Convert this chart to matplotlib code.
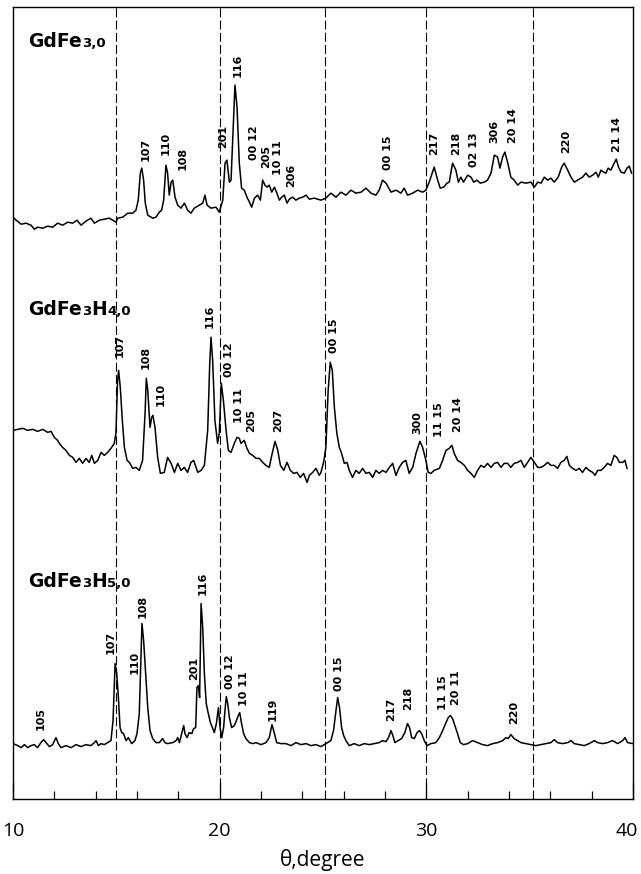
import numpy as np
import matplotlib.pyplot as plt
import matplotlib.transforms as mtrans
from matplotlib.ticker import MultipleLocator
from matplotlib.offsetbox import TextArea, HPacker, AnnotationBbox

# ---- GdFe3,0 (top trace) : 2theta (deg) and intensity (arb. units)
tt_a = [10.00, 10.15, 10.39, 10.63, 10.87, 11.03, 11.19, 11.44, 11.68, 11.92, 12.16, 12.40,
        12.65, 12.89, 13.10, 13.29, 13.53, 13.77, 13.94, 14.18, 14.42, 14.66, 14.82, 14.98,
        15.06, 15.31, 15.55, 15.79, 15.95, 16.06, 16.16, 16.23, 16.32, 16.40, 16.52, 16.76,
        16.92, 17.08, 17.19, 17.29, 17.40, 17.48, 17.56, 17.65, 17.73, 17.84, 17.97, 18.13,
        18.29, 18.45, 18.61, 18.77, 19.02, 19.18, 19.29, 19.39, 19.58, 19.82, 19.98, 20.15,
        20.26, 20.35, 20.47, 20.55, 20.63, 20.74, 20.84, 20.95, 21.06, 21.19, 21.32, 21.44,
        21.55, 21.68, 21.84, 21.97, 22.08, 22.19, 22.29, 22.40, 22.52, 22.65, 22.77, 22.89,
        23.00, 23.13, 23.26, 23.37, 23.53, 23.69, 23.85, 24.02, 24.18, 24.34, 24.58, 24.90,
        25.14, 25.38, 25.63, 25.87, 26.11, 26.35, 26.59, 26.84, 27.08, 27.32, 27.56, 27.72,
        27.88, 28.05, 28.29, 28.53, 28.77, 28.93, 29.09, 29.34, 29.58, 29.82, 29.98, 30.14,
        30.38, 30.55, 30.67, 30.84, 31.00, 31.11, 31.27, 31.43, 31.55, 31.67, 31.80, 32.00,
        32.16, 32.29, 32.45, 32.61, 32.80, 32.96, 33.13, 33.29, 33.45, 33.56, 33.69, 33.80,
        33.93, 34.09, 34.25, 34.42, 34.58, 34.82, 35.06, 35.23, 35.39, 35.55, 35.71, 35.87,
        36.03, 36.19, 36.38, 36.55, 36.67, 36.84, 37.00, 37.16, 37.32, 37.56, 37.72, 37.88,
        38.05, 38.21, 38.32, 38.45, 38.58, 38.69, 38.80, 38.93, 39.09, 39.19, 39.30, 39.42,
        39.58, 39.71, 39.82, 39.93]
int_a = [11, 8, 4, 5, 3, -1, 1, 0, 2, 1, 5, 3,
         6, 5, 8, 3, 7, 10, 5, 8, 9, 10, 8, 6,
         10, 11, 15, 15, 18, 28, 55, 60, 48, 25, 13, 10,
         11, 16, 18, 28, 63, 55, 33, 46, 48, 31, 23, 20,
         25, 18, 15, 20, 23, 25, 33, 23, 20, 21, 16, 28,
         65, 68, 46, 48, 88, 143, 121, 65, 40, 38, 31, 26,
         21, 30, 33, 28, 48, 43, 41, 43, 36, 41, 35, 28,
         31, 33, 25, 29, 31, 28, 30, 31, 33, 29, 30, 28,
         30, 35, 31, 36, 33, 38, 35, 36, 40, 35, 33, 38,
         48, 45, 36, 38, 35, 40, 33, 35, 38, 36, 38, 46,
         61, 48, 40, 41, 45, 46, 65, 58, 46, 51, 46, 53,
         51, 46, 48, 45, 46, 48, 55, 73, 71, 60, 71, 76,
         66, 51, 48, 43, 46, 45, 46, 41, 46, 45, 51, 48,
         50, 46, 51, 61, 65, 58, 51, 46, 48, 51, 55, 51,
         53, 56, 51, 58, 56, 55, 60, 58, 65, 69, 61, 56,
         55, 60, 62, 55]

# ---- GdFe3H4,0 (middle trace)
tt_b = [10.00, 10.23, 10.47, 10.71, 10.95, 11.19, 11.44, 11.68, 11.84, 12.00, 12.16, 12.24,
        12.40, 12.56, 12.73, 12.89, 13.05, 13.21, 13.37, 13.53, 13.69, 13.81, 13.94, 14.10,
        14.26, 14.42, 14.58, 14.74, 14.90, 14.98, 15.06, 15.11, 15.19, 15.29, 15.39, 15.52,
        15.63, 15.79, 15.95, 16.11, 16.27, 16.39, 16.45, 16.52, 16.63, 16.71, 16.77, 16.87,
        17.00, 17.13, 17.32, 17.48, 17.65, 17.81, 17.97, 18.13, 18.29, 18.45, 18.61, 18.74,
        18.94, 19.10, 19.26, 19.42, 19.52, 19.58, 19.66, 19.77, 19.90, 19.98, 20.08, 20.18,
        20.31, 20.42, 20.55, 20.71, 20.84, 20.95, 21.03, 21.19, 21.32, 21.44, 21.60, 21.76,
        21.92, 22.08, 22.24, 22.40, 22.52, 22.68, 22.81, 22.94, 23.10, 23.26, 23.42, 23.58,
        23.74, 23.90, 24.06, 24.23, 24.34, 24.50, 24.66, 24.82,
        24.90, 25.03, 25.14, 25.25, 25.35, 25.45, 25.55, 25.67, 25.79, 25.90, 26.03, 26.16,
        26.27, 26.43, 26.59, 26.75, 26.92, 27.08, 27.24, 27.40, 27.56, 27.72, 27.88, 28.05,
        28.21, 28.37, 28.53, 28.69, 28.85, 29.01, 29.17, 29.34, 29.50, 29.69, 29.82, 29.98,
        30.09, 30.22, 30.38, 30.63, 30.79, 30.95, 31.11, 31.24, 31.35, 31.51, 31.67, 31.84,
        32.00, 32.16, 32.32, 32.48, 32.64, 32.80, 32.96, 33.13, 33.29, 33.45, 33.61, 33.77,
        33.93, 34.09, 34.25, 34.42, 34.58, 34.74, 34.90, 35.06, 35.23, 35.39, 35.55, 35.71,
        35.87, 36.03, 36.19, 36.35, 36.51, 36.67, 36.80, 36.92, 37.08, 37.24, 37.40, 37.56,
        37.72, 37.88, 38.05, 38.16, 38.29, 38.45, 38.61, 38.77, 38.93, 39.09, 39.22, 39.34,
        39.50, 39.61, 39.71]
int_b = [48, 49, 50, 48, 49, 47, 49, 46, 47, 41, 38, 35,
         31, 28, 23, 21, 16, 20, 15, 20, 16, 23, 15, 18,
         26, 23, 26, 30, 35, 45, 98, 108, 91, 58, 31, 18,
         16, 10, 11, 8, 18, 65, 100, 88, 51, 61, 63, 51,
         21, 5, 6, 21, 15, 6, 15, 8, 11, 6, 16, 18,
         6, 8, 13, 48, 115, 141, 118, 58, 35, 45, 95, 78,
         48, 28, 26, 35, 41, 40, 35, 38, 30, 25, 23, 20,
         20, 16, 13, 11, 23, 37, 28, 13, 8, 16, 8, 5,
         6, 1, 5, -4, 3, 6, 10, 3,
         6, 16, 31, 88, 116, 108, 71, 45, 31, 25, 15, 16,
         8, 1, 8, 5, 10, 5, 6, 1, 8, 5, 8, 6,
         11, 15, 3, 11, 16, 18, 5, 11, 25, 37, 31, 18,
         6, 5, 8, 10, 18, 28, 30, 33, 25, 18, 16, 13,
         8, 5, 1, 8, 13, 11, 15, 11, 15, 16, 11, 15,
         15, 11, 15, 16, 18, 11, 16, 21, 16, 11, 11, 13,
         16, 13, 13, 10, 16, 18, 22, 13, 10, 8, 10, 6,
         11, 8, 6, 3, 8, 8, 11, 15, 13, 23, 21, 16,
         16, 18, 10]

# ---- GdFe3H5,0 (bottom trace)
tt_c = [10.00, 10.23, 10.39, 10.55, 10.71, 10.87, 11.03, 11.19, 11.35, 11.48, 11.60, 11.76,
        11.92, 12.08, 12.19, 12.32, 12.56, 12.81, 13.05, 13.29, 13.53, 13.77, 13.94, 14.02,
        14.13, 14.26, 14.42, 14.58, 14.74, 14.84, 14.94, 15.02, 15.10, 15.18, 15.26, 15.35,
        15.47, 15.58, 15.74, 15.90, 16.00, 16.11, 16.19, 16.24, 16.32, 16.44, 16.52, 16.63,
        16.76, 16.92, 17.08, 17.24, 17.35, 17.48, 17.73, 17.89, 17.97, 18.05, 18.16, 18.26,
        18.32, 18.42, 18.53, 18.65, 18.74, 18.84, 18.90, 18.97, 19.03, 19.10, 19.18, 19.26,
        19.35, 19.45, 19.55, 19.65, 19.74, 19.84, 19.94, 20.02, 20.10, 20.19, 20.27, 20.32,
        20.39, 20.47, 20.58, 20.71, 20.81, 20.90, 20.97, 21.06, 21.16, 21.27, 21.44, 21.60,
        21.76, 22.00, 22.24, 22.40, 22.53, 22.65, 22.76, 22.97, 23.21, 23.45, 23.69, 23.94,
        24.18, 24.42, 24.66,
        24.90, 25.06, 25.22, 25.38, 25.51, 25.61, 25.71, 25.80, 25.90, 26.00, 26.11, 26.27,
        26.51, 26.75, 27.00, 27.24, 27.48, 27.72, 27.88, 28.05, 28.17, 28.29, 28.38, 28.48,
        28.64, 28.80, 28.96, 29.09, 29.19, 29.29, 29.42, 29.55, 29.67, 29.77, 29.90, 30.03,
        30.22, 30.46, 30.63, 30.79, 30.95, 31.06, 31.16, 31.27, 31.38, 31.51, 31.64, 31.80,
        32.00, 32.24, 32.48, 32.72, 32.96, 33.21, 33.45, 33.69, 33.85, 33.96, 34.09, 34.25,
        34.42, 34.58, 34.82, 35.06, 35.30, 35.55, 35.79, 36.03, 36.19, 36.35, 36.59, 36.84,
        37.00, 37.16, 37.40, 37.64, 37.88, 38.13, 38.29, 38.53, 38.77, 39.01, 39.26, 39.50,
        39.61, 39.74, 39.98]
int_c = [10, 8, 6, 9, 6, 8, 9, 6, 11, 14, 11, 7,
         9, 16, 10, 6, 8, 6, 9, 7, 9, 8, 11, 13,
         8, 10, 9, 11, 13, 33, 90, 80, 56, 26, 21, 20,
         13, 16, 10, 13, 20, 40, 96, 130, 113, 73, 46, 23,
         15, 11, 11, 15, 11, 10, 11, 13, 16, 11, 20, 28,
         20, 16, 21, 20, 25, 26, 66, 68, 56, 150, 126, 80,
         50, 40, 31, 26, 21, 30, 46, 26, 16, 26, 46, 57,
         50, 36, 26, 28, 33, 38, 41, 30, 20, 15, 11, 10,
         11, 9, 11, 16, 29, 20, 11, 10, 10, 8, 11, 9,
         10, 8, 9,
         7, 9, 11, 13, 23, 40, 56, 46, 26, 18, 13, 8,
         10, 8, 10, 9, 10, 11, 13, 12, 16, 23, 18, 11,
         13, 15, 21, 30, 26, 16, 15, 21, 23, 20, 13, 8,
         10, 11, 16, 23, 31, 36, 38, 35, 28, 20, 11, 9,
         10, 13, 11, 9, 8, 10, 11, 13, 16, 15, 19, 15,
         13, 11, 10, 9, 8, 9, 10, 11, 14, 11, 10, 11,
         13, 10, 9, 8, 10, 13, 11, 10, 11, 13, 10, 13,
         16, 11, 10]

# hkl labels: text, 2theta, height (bottom of the text)
hkl_a = ["107", "110", "108", "201", "116", "00 12", "205", "10 11", "206",
         "00 15", "217", "218", "02 13", "306", "20 14", "220", "21 14"]
hkl_a_x = [16.44, 17.40, 18.21, 20.15, 20.87, 21.68, 22.24, 22.81, 23.45,
           28.13, 30.38, 31.43, 32.32, 33.29, 34.17, 36.75, 39.25]
hkl_a_y = [67, 73, 58, 80, 151, 68, 60, 53, 41, 58, 73, 73, 61, 85, 85, 75, 76]

hkl_b = ["107", "108", "110", "116", "00 12", "10 11", "205", "207",
         "00 15", "300", "11 15", "20 14"]
hkl_b_x = [15.15, 16.44, 17.13, 19.50, 20.44, 20.95, 21.52, 22.81,
           25.55, 29.58, 30.63, 31.51]
hkl_b_y = [121, 109, 72, 150, 101, 55, 46, 46, 125, 44, 41, 46]

hkl_c = ["105", "107", "110", "108", "201", "116", "00 12", "10 11", "119",
         "00 15", "217", "218", "11 15", "20 11", "220"]
hkl_c_x = [11.35, 14.74, 15.87, 16.27, 18.74, 19.18, 20.52, 21.19, 22.56,
           25.79, 28.29, 29.13, 30.79, 31.43, 34.25]
hkl_c_y = [24, 100, 80, 136, 74, 158, 65, 48, 33, 63, 33, 44, 44, 49, 30]

# sample names as (text, is_subscript)
name_a = [("GdFe", 0), ("3,0", 1)]
name_b = [("GdFe", 0), ("3", 1), ("H", 0), ("4,0", 1)]
name_c = [("GdFe", 0), ("3", 1), ("H", 0), ("5,0", 1)]

dash_x = [15.0, 20.0, 25.1, 30.0, 35.15]


def sample_name(ax, parts, x, y):
    boxes = []
    for txt, sub in parts:
        size = 9.5 if sub else 13.5
        boxes.append(TextArea(txt, textprops=dict(fontsize=size, fontweight='bold',
                                                  family='DejaVu Sans')))
    pack = HPacker(children=boxes, align="baseline", pad=0, sep=0)
    ab = AnnotationBbox(pack, (x, y), xycoords='data', box_alignment=(0, 0),
                        frameon=False, pad=0)
    ax.add_artist(ab)


fig = plt.figure(figsize=(6.41, 8.74), dpi=100)
ax = fig.add_axes([0.0203, 0.0862, 0.9672, 0.9058])

traces = [(tt_a, int_a, hkl_a, hkl_a_x, hkl_a_y, name_a, 570, 177),
          (tt_b, int_b, hkl_b, hkl_b_x, hkl_b_y, name_b, 320, 159),
          (tt_c, int_c, hkl_c, hkl_c_x, hkl_c_y, name_c, 45, 162)]

for xd in dash_x:
    ax.axvline(xd, color='black', lw=0.8, linestyle=(0, (8, 3)), zorder=1)

for tt, inten, hkl, hx, hy, name, off, ny in traces:
    ax.plot(tt, np.array(inten) + off, color='black', lw=1.1, zorder=2)
    for lab, lx, ly in zip(hkl, hx, hy):
        ax.text(lx, ly + off, lab, rotation=90, ha='center', va='bottom',
                fontsize=8, fontweight='bold', family='DejaVu Sans', zorder=3)
    sample_name(ax, name, 10.75, ny + off)

ax.set_xlim(10, 40)
ax.set_ylim(0, 791)
ax.set_xticks([10, 20, 30, 40])
ax.xaxis.set_minor_locator(MultipleLocator(2))
ax.tick_params(axis='x', which='both', direction='in', width=0.9, pad=17,
               labelsize=14, top=False)
ax.tick_params(axis='x', which='major', length=12)
ax.tick_params(axis='x', which='minor', length=6)
ax.set_yticks([])
labels = ax.get_xticklabels()
for lbl in labels:
    lbl.set_family('Open Sans')
# the last label sits a little left of its tick, inside the figure
shift = mtrans.ScaledTranslation(-6 / 100, 0, fig.dpi_scale_trans)
labels[-1].set_transform(labels[-1].get_transform() + shift)
ax.set_xlabel('θ,degree', fontsize=15, family='Open Sans', labelpad=6)
for sp in ax.spines.values():
    sp.set_linewidth(1.0)

fig.savefig('out.png', dpi=100)
